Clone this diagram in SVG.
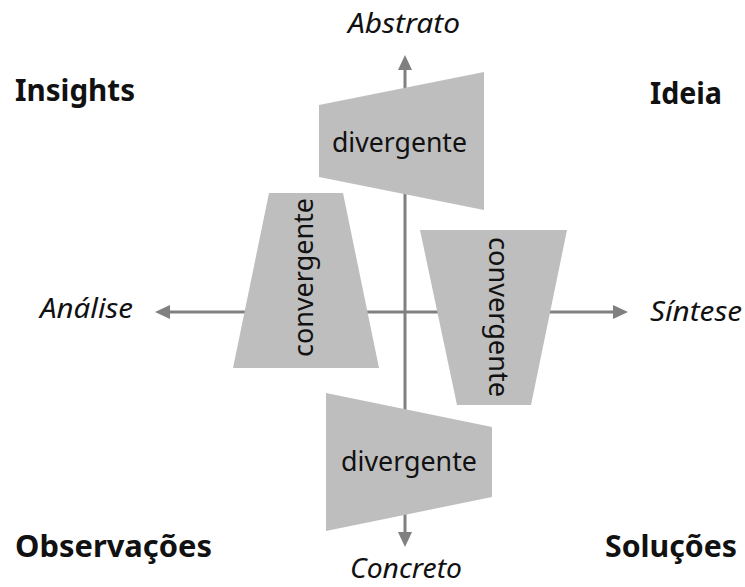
<svg xmlns="http://www.w3.org/2000/svg" width="745" height="587" viewBox="0 0 745 587">
  <style>
    .axis { stroke: #808080; stroke-width: 3; fill: none; marker-start: url(#arrow); marker-end: url(#arrow); }
    .shape { fill: #bfbebf; stroke: none; }
    .lbl { font-family: "Noto Sans", "Liberation Sans", sans-serif; font-size: 28px; fill: #111; }
    .axislbl { font-family: "Noto Sans", "Liberation Sans", sans-serif; font-size: 27px; font-style: italic; fill: #111; }
    .corner { font-family: "Noto Sans", "Liberation Sans", sans-serif; font-size: 31px; font-weight: bold; fill: #111; }
  </style>
  <defs>
    <marker id="arrow" markerUnits="userSpaceOnUse" markerWidth="15" markerHeight="14" refX="0" refY="7" orient="auto-start-reverse" viewBox="0 0 15 14">
      <path d="M0,0 L15,7 L0,14 z" fill="#808080"/>
    </marker>
  </defs>

  <!-- axes, double-headed -->
  <g id="connectors">
    <line class="axis" x1="405" y1="532" x2="405" y2="70"/>
    <line class="axis" x1="170" y1="312" x2="613" y2="312"/>
  </g>

  <!-- axis labels -->
  <g id="label-abstrato"><text class="axislbl" x="348" y="33" textLength="112" lengthAdjust="spacingAndGlyphs">Abstrato</text></g>
  <g id="label-concreto"><text class="axislbl" x="350" y="578" textLength="112" lengthAdjust="spacingAndGlyphs">Concreto</text></g>
  <g id="label-analise"><text class="axislbl" x="40" y="318" textLength="93" lengthAdjust="spacingAndGlyphs">Análise</text></g>
  <g id="label-sintese"><text class="axislbl" x="650" y="321" textLength="92" lengthAdjust="spacingAndGlyphs">Síntese</text></g>

  <!-- quadrant titles -->
  <g id="insights"><text class="corner" x="15" y="101" textLength="120" lengthAdjust="spacingAndGlyphs">Insights</text></g>
  <g id="ideia"><text class="corner" x="650" y="104" textLength="72" lengthAdjust="spacingAndGlyphs">Ideia</text></g>
  <g id="observacoes"><text class="corner" x="15" y="557" textLength="197" lengthAdjust="spacingAndGlyphs">Observações</text></g>
  <g id="solucoes"><text class="corner" x="605" y="557" textLength="132" lengthAdjust="spacingAndGlyphs">Soluções</text></g>

  <!-- phases -->
  <g id="divergente-top">
    <polygon class="shape" points="319,105 484,72 484,210 319,177"/>
    <text class="lbl" x="332" y="152" textLength="135" lengthAdjust="spacingAndGlyphs">divergente</text>
  </g>
  <g id="convergente-left">
    <polygon class="shape" points="269,193 343,193 379,368 233,368"/>
    <text class="lbl" transform="translate(313,357) rotate(-90)" x="0" y="0" textLength="159" lengthAdjust="spacingAndGlyphs">convergente</text>
  </g>
  <g id="convergente-right">
    <polygon class="shape" points="420,230 567,230 531,405 457,405"/>
    <text class="lbl" transform="translate(489,237) rotate(90)" x="0" y="0" textLength="160" lengthAdjust="spacingAndGlyphs">convergente</text>
  </g>
  <g id="divergente-bottom">
    <polygon class="shape" points="326,393 492,427 492,497 326,531"/>
    <text class="lbl" x="341" y="471" textLength="136" lengthAdjust="spacingAndGlyphs">divergente</text>
  </g>
</svg>
